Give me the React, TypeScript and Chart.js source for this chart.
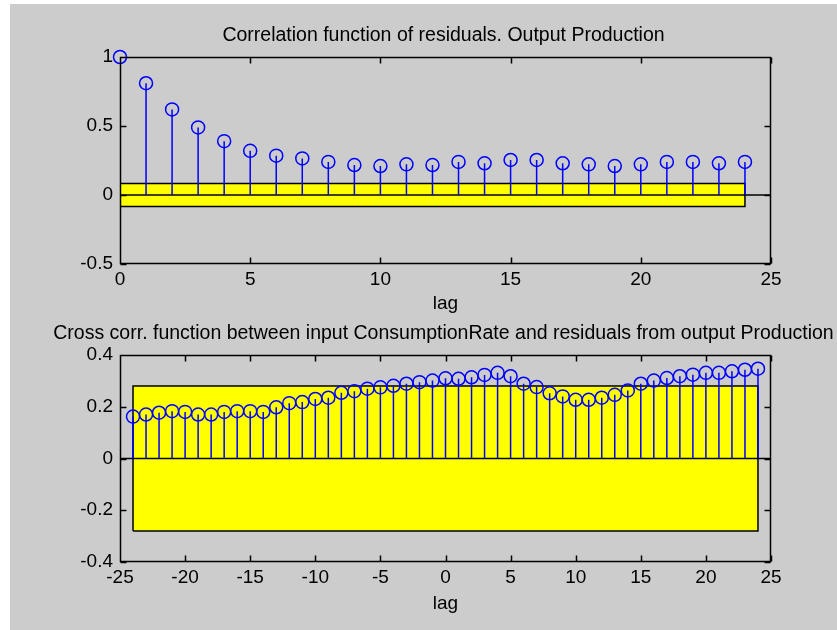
import React, { useEffect, useRef } from 'react';
import { Chart, registerables } from 'chart.js';

Chart.register(...registerables);

// ---------- data ----------
const acfLags = [0, 1, 2, 3, 4, 5, 6, 7, 8, 9, 10, 11, 12, 13, 14, 15, 16, 17, 18, 19, 20, 21, 22, 23, 24];
const acfValues = [1.0, 0.81, 0.62, 0.49, 0.39, 0.32, 0.285, 0.265, 0.24, 0.217, 0.21, 0.222, 0.217, 0.24, 0.23, 0.254, 0.254, 0.23, 0.222, 0.21, 0.222, 0.24, 0.24, 0.23, 0.24];
const acfConfidence = 0.083;
const acfXTicks = [0, 5, 10, 15, 20, 25];
const acfYTicks = [-0.5, 0, 0.5, 1];
const acfTitle = 'Correlation function of residuals. Output Production';

const ccfLags = [-24, -23, -22, -21, -20, -19, -18, -17, -16, -15, -14, -13, -12, -11, -10, -9, -8, -7, -6, -5, -4, -3, -2, -1, 0, 1, 2, 3, 4, 5, 6, 7, 8, 9, 10, 11, 12, 13, 14, 15, 16, 17, 18, 19, 20, 21, 22, 23, 24];
const ccfValues = [0.162, 0.17, 0.177, 0.183, 0.18, 0.17, 0.17, 0.18, 0.183, 0.183, 0.18, 0.198, 0.214, 0.218, 0.23, 0.235, 0.254, 0.26, 0.27, 0.275, 0.281, 0.289, 0.295, 0.301, 0.31, 0.308, 0.314, 0.323, 0.331, 0.318, 0.289, 0.276, 0.252, 0.24, 0.227, 0.227, 0.235, 0.246, 0.263, 0.289, 0.301, 0.311, 0.318, 0.324, 0.331, 0.331, 0.337, 0.343, 0.347];
const ccfConfidence = 0.28;
const ccfXTicks = [-25, -20, -15, -10, -5, 0, 5, 10, 15, 20, 25];
const ccfYTicks = [-0.4, -0.2, 0, 0.2, 0.4];
const ccfTitle = 'Cross corr. function between input ConsumptionRate and residuals from output Production';

const xLabel = 'lag';

// ---------- styling ----------
const FONT_FAMILY = "'Liberation Sans', Arial, sans-serif";
const FONT_SIZE = 19;
const TITLE_SIZE = 19.5;
const BLUE = '#0000ff';
const W = 837;
const H = 315;

type PanelCfg = {
  lags: number[];
  values: number[];
  conf: number;
  xTicks: number[];
  yTicks: number[];
  title: string;
  titleBaseline: number;
  padTop: number;
  xAxisHeight: number;
  lagPad: number;
};

function buildChart(canvas: HTMLCanvasElement, p: PanelCfg) {
  const xMin = p.xTicks[0];
  const xMax = p.xTicks[p.xTicks.length - 1];
  const yMin = p.yTicks[0];
  const yMax = p.yTicks[p.yTicks.length - 1];
  const lagFirst = p.lags[0];
  const lagLast = p.lags[p.lags.length - 1];

  const circles = p.lags.map((l, i) => ({ x: l, y: p.values[i] }));
  const stems: any[] = [];
  p.lags.forEach((l, i) => {
    stems.push({ x: l, y: 0 }, { x: l, y: p.values[i] }, { x: l, y: null });
  });
  const band = [
    { x: lagFirst, y: -p.conf },
    { x: lagFirst, y: p.conf },
    { x: lagLast, y: p.conf },
    { x: lagLast, y: -p.conf },
    { x: lagFirst, y: -p.conf },
  ];
  const zero = [
    { x: xMin, y: 0 },
    { x: xMax, y: 0 },
  ];

  const boxPlugin = {
    id: 'matlabBox',
    afterDatasetsDraw(chart: any) {
      const { ctx, chartArea: a, scales } = chart;
      const xs = scales.x;
      const ys = scales.y;
      const tl = 6;
      ctx.save();
      ctx.strokeStyle = '#000';
      ctx.lineWidth = 1.5;
      const L = Math.round(a.left) + 0.5;
      const R = Math.round(a.right) - 0.5;
      const T = Math.round(a.top) + 0.5;
      const B = Math.round(a.bottom) - 0.5;
      ctx.beginPath();
      ctx.rect(L, T, R - L, B - T);
      p.xTicks.forEach((v) => {
        const px = Math.round(xs.getPixelForValue(v)) + 0.5;
        ctx.moveTo(px, B);
        ctx.lineTo(px, B - tl);
        ctx.moveTo(px, T);
        ctx.lineTo(px, T + tl);
      });
      p.yTicks.forEach((v) => {
        const py = Math.round(ys.getPixelForValue(v)) + 0.5;
        ctx.moveTo(L, py);
        ctx.lineTo(L + tl, py);
        ctx.moveTo(R, py);
        ctx.lineTo(R - tl, py);
      });
      ctx.stroke();
      ctx.restore();
    },
  };

  const titlePlugin = {
    id: 'panelTitle',
    afterDraw(chart: any) {
      const { ctx, chartArea: a } = chart;
      ctx.save();
      ctx.font = `${TITLE_SIZE}px ${FONT_FAMILY}`;
      ctx.fillStyle = '#000';
      ctx.textAlign = 'center';
      ctx.textBaseline = 'alphabetic';
      ctx.fillText(p.title, (a.left + a.right) / 2 - 2, p.titleBaseline);
      ctx.restore();
    },
  };

  const tickFont = { family: FONT_FAMILY, size: FONT_SIZE };

  return new Chart(canvas, {
    type: 'scatter',
    data: {
      datasets: [
        {
          data: circles,
          showLine: false,
          pointStyle: 'circle',
          pointRadius: 6.5,
          pointHoverRadius: 6.5,
          pointBorderWidth: 1.5,
          borderColor: BLUE,
          backgroundColor: 'rgba(0,0,0,0)',
          clip: false,
        } as any,
        {
          data: stems,
          showLine: true,
          spanGaps: false,
          pointRadius: 0,
          borderColor: BLUE,
          borderWidth: 1.5,
          fill: false,
        } as any,
        {
          data: zero,
          showLine: true,
          pointRadius: 0,
          borderColor: '#000',
          borderWidth: 1.5,
          fill: false,
        } as any,
        {
          data: band,
          showLine: true,
          pointRadius: 0,
          borderColor: '#000',
          borderWidth: 1.5,
          backgroundColor: '#ffff00',
          fill: 'shape',
        } as any,
      ],
    },
    options: {
      responsive: false,
      animation: false,
      events: [],
      layout: { padding: { top: p.padTop, right: W - 771, bottom: 0, left: 0 } },
      plugins: {
        legend: { display: false },
        tooltip: { enabled: false },
        title: { display: false },
      },
      scales: {
        x: {
          type: 'linear',
          min: xMin,
          max: xMax,
          afterBuildTicks: (s: any) => {
            s.ticks = p.xTicks.map((v) => ({ value: v }));
          },
          afterFit: (s: any) => {
            s.height = p.xAxisHeight;
          },
          ticks: {
            autoSkip: false,
            maxRotation: 0,
            padding: 4,
            color: '#000',
            font: tickFont,
            callback: (v: any) => String(v),
          },
          grid: { display: false, drawTicks: false },
          border: { display: false },
          title: {
            display: true,
            text: xLabel,
            color: '#000',
            font: tickFont,
            padding: { top: 0, bottom: p.lagPad },
          },
        },
        y: {
          type: 'linear',
          min: yMin,
          max: yMax,
          afterBuildTicks: (s: any) => {
            s.ticks = p.yTicks.map((v) => ({ value: v }));
          },
          afterFit: (s: any) => {
            s.width = 120;
          },
          ticks: {
            autoSkip: false,
            padding: 7,
            color: '#000',
            font: tickFont,
            callback: (v: any) => String(v),
          },
          grid: { display: false, drawTicks: false },
          border: { display: false },
        },
      },
    } as any,
    plugins: [boxPlugin, titlePlugin],
  });
}

function Panel({ cfg, top }: { cfg: PanelCfg; top: number }) {
  const ref = useRef<HTMLCanvasElement | null>(null);
  useEffect(() => {
    if (!ref.current) return;
    const chart = buildChart(ref.current, cfg);
    return () => chart.destroy();
  }, []);
  return (
    <canvas
      ref={ref}
      width={W}
      height={H}
      style={{ position: 'absolute', left: 0, top, width: W, height: H }}
    />
  );
}

export default function App() {
  const topCfg: PanelCfg = {
    lags: acfLags,
    values: acfValues,
    conf: acfConfidence,
    xTicks: acfXTicks,
    yTicks: acfYTicks,
    title: acfTitle,
    titleBaseline: 41,
    padTop: 57,
    xAxisHeight: H - 264,
    lagPad: 0,
  };
  const bottomCfg: PanelCfg = {
    lags: ccfLags,
    values: ccfValues,
    conf: ccfConfidence,
    xTicks: ccfXTicks,
    yTicks: ccfYTicks,
    title: ccfTitle,
    titleBaseline: 339 - 315,
    padTop: 355 - 315,
    xAxisHeight: H - (562 - 315),
    lagPad: 15,
  };
  return (
    <div style={{ position: 'absolute', left: 0, top: 0, width: W, height: 630, background: '#ffffff', overflow: 'hidden' }}>
      <div style={{ position: 'absolute', left: 10, top: 4, right: 0, bottom: 0, background: '#cccccc' }} />
      <Panel cfg={topCfg} top={0} />
      <Panel cfg={bottomCfg} top={315} />
    </div>
  );
}
